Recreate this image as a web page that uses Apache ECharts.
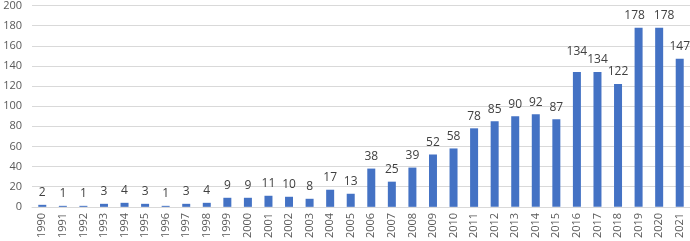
<!DOCTYPE html>
<html>
<head>
<meta charset="utf-8">
<script src="https://cdn.jsdelivr.net/npm/echarts@6/dist/echarts.min.js"></script>
<style>
  html, body { margin: 0; padding: 0; background: #fff; }
  #chart { width: 690px; height: 241px; }
</style>
</head>
<body>
<div id="chart"></div>
<script>
const years = ['1990', '1991', '1992', '1993', '1994', '1995', '1996', '1997', '1998', '1999',
  '2000', '2001', '2002', '2003', '2004', '2005', '2006', '2007', '2008', '2009', '2010',
  '2011', '2012', '2013', '2014', '2015', '2016', '2017', '2018', '2019', '2020', '2021'];
const counts = [2, 1, 1, 3, 4, 3, 1, 3, 4, 9, 9, 11, 10, 8, 17, 13, 38, 25, 39, 52, 58,
  78, 85, 90, 92, 87, 134, 134, 122, 178, 178, 147];

// excel nudged a few labels apart so they don't collide
const labelNudge = { '2016': [0, -8], '2019': [-4, 0], '2020': [5, 0] };

const chart = echarts.init(document.getElementById('chart'));
chart.setOption({
  animation: false,
  grid: { left: 32, right: 0, top: 5, bottom: 34, containLabel: false },
  xAxis: {
    type: 'category',
    data: years,
    axisLine: { show: true, lineStyle: { color: '#d9d9d9' } },
    axisTick: { show: false },
    axisLabel: {
      rotate: 90,
      interval: 0,
      margin: 6,
      color: '#595959',
      fontSize: 11,
      fontFamily: 'Open Sans'
    }
  },
  yAxis: {
    type: 'value',
    min: 0,
    max: 200,
    interval: 20,
    axisLine: { show: false },
    axisTick: { show: false },
    splitLine: { lineStyle: { color: '#d9d9d9' } },
    axisLabel: { color: '#595959', fontSize: 11, margin: 10, fontFamily: 'Open Sans' }
  },
  series: [{
    type: 'bar',
    data: counts.map((v, i) => labelNudge[years[i]]
      ? { value: v, label: { offset: labelNudge[years[i]] } }
      : v),
    barWidth: 8,
    itemStyle: { color: '#4472C4' },
    label: {
      show: true,
      position: 'top',
      distance: 6,
      color: '#404040',
      fontSize: 12,
      fontFamily: 'Open Sans'
    }
  }]
});
</script>
</body>
</html>
